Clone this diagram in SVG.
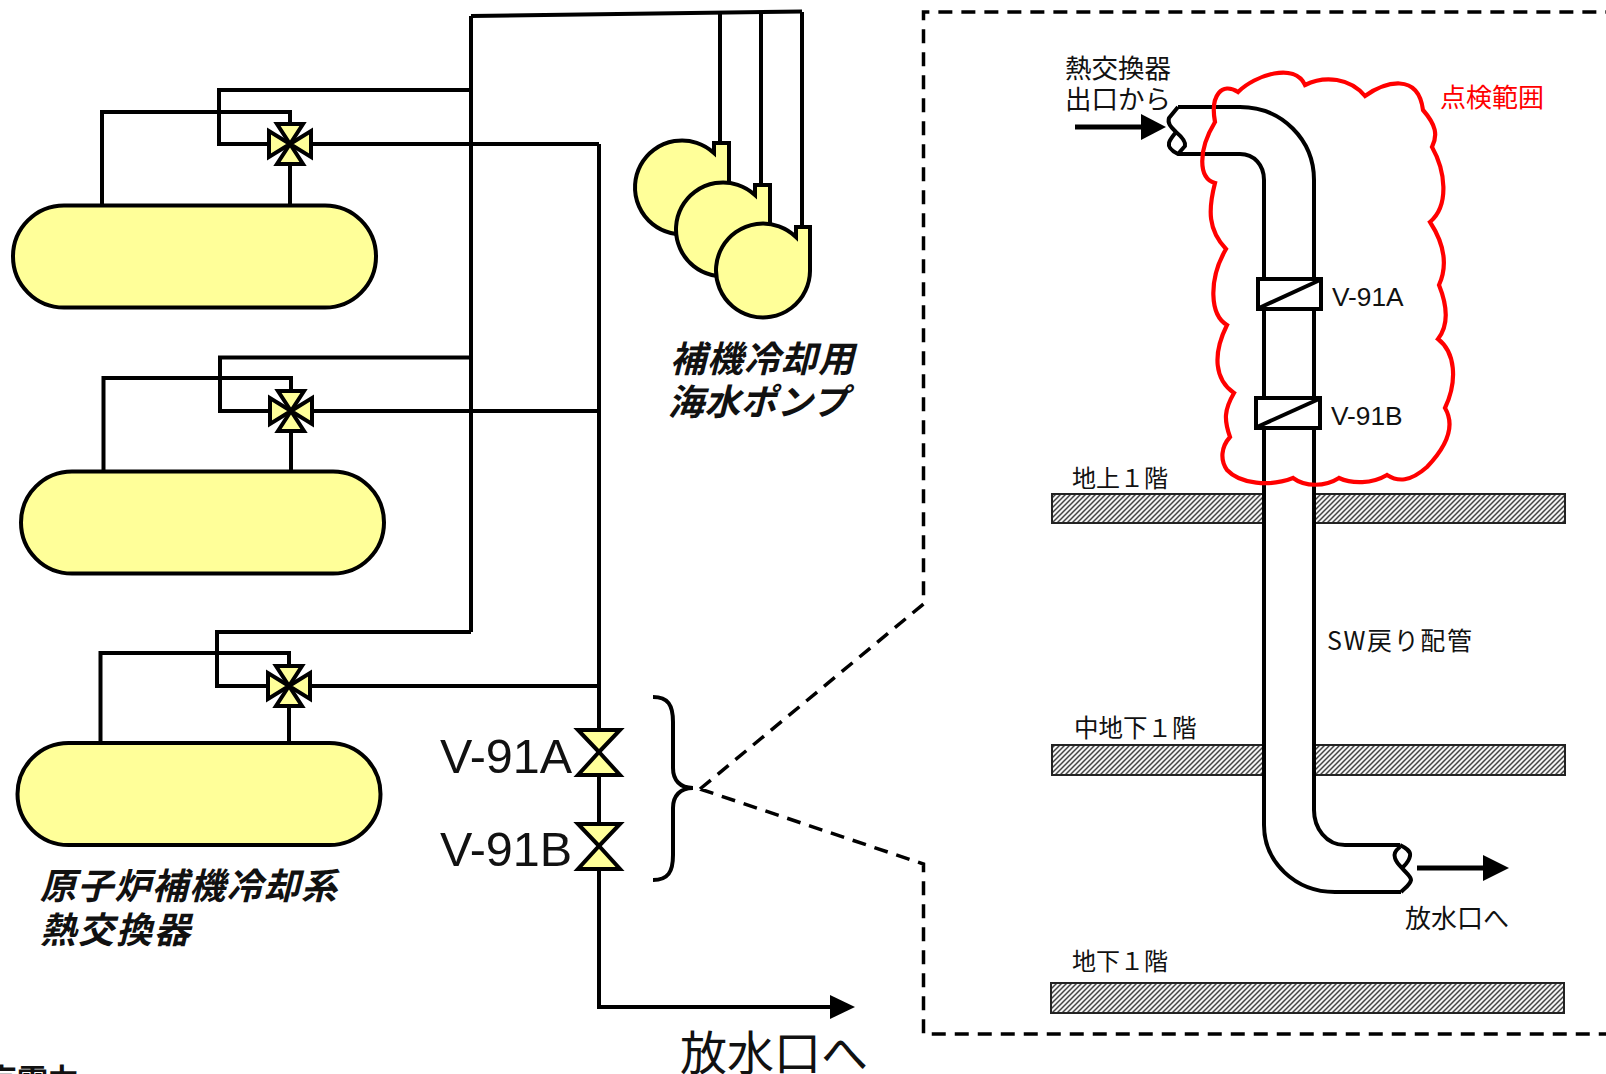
<svg xmlns="http://www.w3.org/2000/svg" width="1606" height="1074" viewBox="0 0 1606 1074">
<style>
.p{fill:none;stroke:#000;stroke-width:4}
.pipe{fill:none;stroke:#000;stroke-width:4;stroke-linejoin:round}
.y{fill:#FFFF99;stroke:#000;stroke-width:4;stroke-linejoin:miter}
.d{fill:none;stroke:#000;stroke-width:3.5;stroke-dasharray:14 9}
.s{fill:url(#h);stroke:#222;stroke-width:2}
.t{font-family:"Noto Sans CJK JP","Liberation Sans",sans-serif;font-size:26px;fill:#111}
.l{font-family:"Liberation Sans",sans-serif;fill:#111}
.b{font-family:"Noto Sans CJK JP",sans-serif;font-size:36px;font-weight:700;font-style:italic;fill:#111}
.w{fill:#fff;stroke:#000;stroke-width:4}
</style>
<defs>
<pattern id="h" patternUnits="userSpaceOnUse" width="5" height="5">
<rect width="5" height="5" fill="#f4f4f4"/>
<path d="M-1 1L1 -1M0 5L5 0M4 6L6 4" stroke="#444" stroke-width="1.5"/>
</pattern>
<g id="butterfly">
<polygon class="y" points="0,0 -13,-20 13,-20"/>
<polygon class="y" points="0,0 -13,20 13,20"/>
<polygon class="y" points="0,0 -21,-13 -21,13"/>
<polygon class="y" points="0,0 21,-13 21,13"/>
</g>
<g id="gate">
<polygon class="y" points="-21,-22 21,-22 0,0"/>
<polygon class="y" points="-21,23 21,23 0,0"/>
</g>
</defs>

<g id="connectors">
<path class="p" d="M471 16L802 11.500M471 16V632"/>
<path class="p" d="M720 12V142M761 12V185M802 12V227"/>
<path class="p" d="M471 90H219V144H270M102 205V112H290V124M290 163V205M310 144H599"/>
<path class="p" d="M471 357.500H220V411H271M103.500 471V378H291V392M291 431V471M311 411H599"/>
<path class="p" d="M471 632H217V686H269M100.500 743V653H289V667M289 705V743M309 686H599"/>
<path class="p" d="M599 144V1007H832"/>
<polygon points="830,995 855,1007 830,1019" fill="#000"/>
</g>

<g id="hx1"><rect class="y" x="13" y="205.500" width="363" height="102" rx="51"/></g>
<g id="hx2"><rect class="y" x="21" y="471.500" width="363" height="102" rx="51"/></g>
<g id="hx3"><rect class="y" x="17.500" y="743" width="363" height="102" rx="51"/></g>
<g id="valve1"><use href="#butterfly" x="290" y="144"/></g>
<g id="valve2"><use href="#butterfly" x="291" y="411"/></g>
<g id="valve3"><use href="#butterfly" x="289" y="686"/></g>
<g id="v91a"><use href="#gate" x="599" y="752"/><text class="l" x="440" y="773" font-size="48.500">V-91A</text></g>
<g id="v91b"><use href="#gate" x="599" y="846"/><text class="l" x="440" y="866" font-size="48.500">V-91B</text></g>
<g id="pump1"><path class="y" d="M714 143H729V187A47 47 0 1 1 714 153Z"/></g>
<g id="pump2"><path class="y" d="M755 185H770V229A47 47 0 1 1 755 195Z"/></g>
<g id="pump3"><path class="y" d="M796 227H810V271A47 47 0 1 1 796 237Z"/></g>
<g id="labels-left">
<text class="b" x="670" y="372" textLength="184">補機冷却用</text>
<text class="b" x="668" y="415" textLength="180">海水ポンプ</text>
<text class="b" x="40" y="899" textLength="297">原子炉補機冷却系</text>
<text class="b" x="40" y="943" textLength="150">熱交換器</text>
<text class="t" x="680" y="1070" style="font-size:47px">放水口へ</text>
<text class="t" x="-14" y="1091" style="font-size:31px;font-weight:700">京電力</text>
</g>
<g id="brace"><path class="p" d="M653 697C668 697 673 705 673 722V768C673 780 680 788 693 788C680 788 673 796 673 808V855C673 872 668 880 653 880"/></g>
<g id="callout">
<path class="d" d="M700 789L923.500 604V12H1606M700 789L923.500 864V1034H1606"/>
</g>

<g id="slab1"><path class="s" d="M1263 494H1052V523H1263M1314 494H1565V523H1314"/></g>
<g id="slab2"><path class="s" d="M1263 745H1052V775H1263M1314 745H1565V775H1314"/></g>
<g id="slab3"><rect class="s" x="1051" y="983" width="513" height="30"/></g>
<g id="pipe">
<path class="pipe" d="M1178 107H1240C1282 107 1314 140 1314 180V810C1314 828 1326 845 1345 845H1400"/>
<path class="pipe" d="M1178 154H1240C1254 154 1264 165 1264 180V825C1264 862 1295 892 1335 892H1401"/>
<path class="pipe" d="M1178 107L1169 118C1167 124 1172 128 1176 132C1182 137 1186 142 1185 146L1178 154C1172 151 1168 147 1169 143C1170 139 1174 135 1176 132"/>
<path class="pipe" d="M1400 845C1406 848 1411 851 1410 856C1409 862 1405 865 1402 868C1405 872 1411 876 1411 880C1410 885 1405 888 1401 892M1400 847C1396 850 1393 853 1395 858C1396 862 1399 865 1402 868"/>
</g>
<g id="v91a-section"><rect class="w" x="1258" y="279" width="63" height="30"/><path class="p" d="M1259 308L1320 280"/><text class="l" x="1332" y="306" font-size="26.300">V-91A</text></g>
<g id="v91b-section"><rect class="w" x="1256" y="398" width="64" height="30"/><path class="p" d="M1257 427L1319 399"/><text class="l" x="1331" y="425" font-size="26.300">V-91B</text></g>
<g id="cloud">
<path fill="none" stroke="#FF0000" stroke-width="4.200" d="M1215 122C1210 95 1222 82 1238 92C1255 75 1295 62 1305 85C1325 75 1350 78 1365 96C1385 82 1418 72 1423 110C1436 125 1438 135 1432 147C1445 170 1450 205 1430 222C1445 245 1448 265 1439 285C1447 305 1449 325 1438 339C1455 352 1458 380 1445 408C1455 425 1448 445 1427 467C1410 482 1398 482 1387 475C1372 484 1352 484 1339 478C1325 487 1305 487 1293 478C1270 487 1240 484 1227 470C1220 460 1221 447 1230 437C1224 420 1224 410 1234 393C1215 380 1212 355 1227 325C1210 315 1208 280 1226 249C1208 230 1208 210 1215 183C1198 178 1198 150 1215 122Z"/>
</g>
<g id="arrows">
<path d="M1075 127H1142M1417 868H1484" fill="none" stroke="#000" stroke-width="5"/>
<polygon points="1141,114 1166,127 1141,140" fill="#000"/>
<polygon points="1483,855 1509,868 1483,881" fill="#000"/>
</g>
<g id="labels-right">
<text class="t" x="1065" y="78" style="font-size:26.500px">熱交換器</text>
<text class="t" x="1065" y="109" style="font-size:26.500px">出口から</text>
<text class="t" x="1440" y="107" style="fill:#f00">点検範囲</text>
<text class="t" x="1072" y="487" style="font-size:24px">地上１階</text>
<text class="t" x="1074" y="737" style="font-size:24.500px">中地下１階</text>
<text class="t" x="1072" y="970" style="font-size:24px">地下１階</text>
<text class="t" x="1327" y="650" textLength="145" style="font-size:25px">SW戻り配管</text>
<text class="t" x="1405" y="928">放水口へ</text>
</g>
</svg>
